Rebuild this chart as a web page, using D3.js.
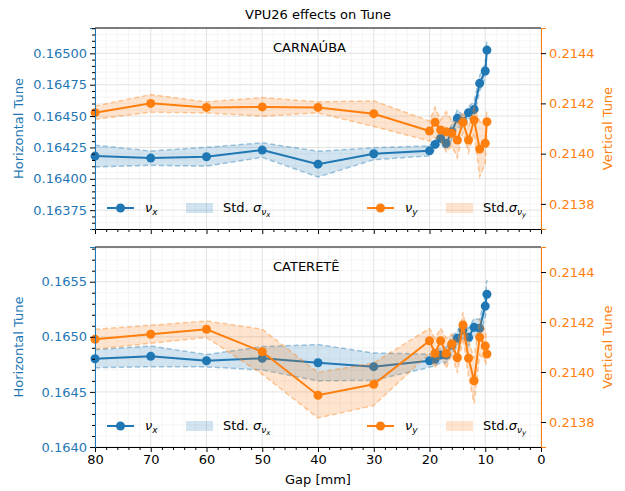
<!DOCTYPE html>
<html>
<head>
<meta charset="utf-8">
<script src="https://cdn.jsdelivr.net/npm/d3@7"></script>
<style>
  body { margin: 0; background: #fff; }
  svg { font-family: "DejaVu Sans", sans-serif; }
  .grid-major line { stroke: #dcdcdc; stroke-width: 0.8; }
  .grid-minor line { stroke: #efefef; stroke-width: 0.6; }
</style>
</head>
<body>
<svg id="chart"></svg>
<script>
// gap values [mm]
const gaps = [80, 70, 60, 50, 40, 30, 20, 19, 18, 17, 16, 15, 14, 13, 12, 11, 10, 9.7];

// CARNAUBA
const carnaubaNuX = [0.164181, 0.164165, 0.164176, 0.164229, 0.164117, 0.164200, 0.164223, 0.164274, 0.164322, 0.164282,
                     0.164375, 0.164482, 0.164455, 0.164527, 0.164553, 0.164761, 0.164859, 0.165026];
const carnaubaStdX = [0.000087, 0.000057, 0.000075, 0.000058, 0.000103, 0.000048, 0.00004, 0.00004, 0.00004, 0.00005,
                      0.00006, 0.00007, 0.00005, 0.00005, 0.00006, 0.00006, 0.00006, 0.00008];
const carnaubaNuY = [0.214163, 0.214200, 0.214184, 0.214186, 0.214184, 0.214159, 0.214090, 0.214125, 0.214094, 0.214087,
                     0.214081, 0.214054, 0.214125, 0.214054, 0.214134, 0.214018, 0.214041, 0.214127];
const carnaubaStdY = [0.0000265, 0.000035, 0.000022, 0.000037, 0.000022, 0.000051, 0.00004, 0.00006, 0.00004, 0.00008,
                      0.00005, 0.00007, 0.00004, 0.00005, 0.00005, 0.00011, 0.00008, 0.00004];

// CATERETE
const cateretNuX = [0.164801, 0.164823, 0.164783, 0.164805, 0.164765, 0.164729, 0.164783, 0.164796, 0.164835, 0.164835,
                    0.164926, 0.164986, 0.165062, 0.164995, 0.165086, 0.165077, 0.165279, 0.165386];
const cateretStdX = [0.000082, 0.000094, 0.000056, 0.000106, 0.000165, 0.000124, 0.00006, 0.00006, 0.00007, 0.00007,
                     0.00008, 0.00007, 0.00007, 0.00008, 0.00008, 0.00008, 0.0001, 0.00013];
const cateretNuY = [0.214131, 0.214151, 0.214171, 0.214081, 0.213907, 0.213951, 0.214125, 0.214075, 0.214125, 0.214075,
                    0.214112, 0.214057, 0.214188, 0.214055, 0.213965, 0.214139, 0.214104, 0.214072];
const cateretStdY = [0.00004, 0.000036, 0.000033, 0.00009, 0.000091, 0.000085, 0.00005, 0.00006, 0.00005, 0.00006,
                     0.00004, 0.00006, 0.00005, 0.00007, 0.00009, 0.00007, 0.00006, 0.00005];

// tick values
const xTicks = [80, 70, 60, 50, 40, 30, 20, 10, 0];
const carnaubaLeftTicks = [0.16375, 0.16400, 0.16425, 0.16450, 0.16475, 0.16500];
const cateretLeftTicks = [0.1640, 0.1645, 0.1650, 0.1655];
const rightTicks = [0.2138, 0.2140, 0.2142, 0.2144];

const blue = '#1f77b4', orange = '#ff7f0e';

const svg = d3.select('#chart').attr('width', 625).attr('height', 491);

svg.append('text')
    .attr('x', 318).attr('y', 19)
    .attr('text-anchor', 'middle')
    .attr('font-size', 13)
    .text('VPU26 effects on Tune');

class TunePanel {
    constructor(_config, _data) {
        this.config = {
            top: _config.top,
            height: _config.height,
            left: 95,
            width: 446,
            label: _config.label,
            leftDomain: _config.leftDomain,
            leftTicks: _config.leftTicks,
            leftMinor: _config.leftMinor,
            leftFormat: _config.leftFormat,
            showXLabels: _config.showXLabels
        };
        this.data = _data;
        this.initVis();
    }

    initVis() {
        let vis = this;
        let c = vis.config;

        vis.g = svg.append('g').attr('transform', `translate(${c.left},${c.top})`);

        vis.xScale = d3.scaleLinear().domain([80, 0]).range([0, c.width]);
        vis.yLeft = d3.scaleLinear().domain(c.leftDomain).range([c.height, 0]);
        vis.yRight = d3.scaleLinear().domain([0.2137, 0.2145]).range([c.height, 0]);

        vis.updateVis();
    }

    updateVis() {
        let vis = this;
        let c = vis.config;

        // minor ticks
        vis.xMinor = d3.range(0, 81, 2).filter(d => d % 10 !== 0);
        let [lo, hi] = c.leftDomain;
        vis.yMinor = d3.range(Math.ceil(lo / c.leftMinor), Math.floor(hi / c.leftMinor) + 1)
            .map(i => +(i * c.leftMinor).toFixed(7))
            .filter(v => !c.leftTicks.some(t => Math.abs(t - v) < 1e-9));

        vis.rows = vis.data.gaps.map((g, i) => ({
            gap: g,
            nx: vis.data.nuX[i], sx: vis.data.stdX[i],
            ny: vis.data.nuY[i], sy: vis.data.stdY[i]
        }));

        vis.renderVis();
    }

    renderVis() {
        let vis = this;
        let c = vis.config;
        let g = vis.g;

        // grid
        g.append('g').attr('class', 'grid-minor')
            .selectAll('line.v').data(vis.xMinor).join('line')
            .attr('x1', d => vis.xScale(d)).attr('x2', d => vis.xScale(d))
            .attr('y1', 0).attr('y2', c.height);
        g.append('g').attr('class', 'grid-minor')
            .selectAll('line.h').data(vis.yMinor).join('line')
            .attr('y1', d => vis.yLeft(d)).attr('y2', d => vis.yLeft(d))
            .attr('x1', 0).attr('x2', c.width);
        g.append('g').attr('class', 'grid-major')
            .selectAll('line').data(xTicks).join('line')
            .attr('x1', d => vis.xScale(d)).attr('x2', d => vis.xScale(d))
            .attr('y1', 0).attr('y2', c.height);
        g.append('g').attr('class', 'grid-major')
            .selectAll('line').data(c.leftTicks).join('line')
            .attr('y1', d => vis.yLeft(d)).attr('y2', d => vis.yLeft(d))
            .attr('x1', 0).attr('x2', c.width);

        // horizontal tune (left axis)
        vis.drawSeries(vis.yLeft, 'nx', 'sx', blue);
        // vertical tune (twin axis, drawn above)
        vis.drawSeries(vis.yRight, 'ny', 'sy', orange);

        // panel label
        g.append('text')
            .attr('x', 273 - c.left).attr('y', 24)
            .attr('font-size', 13)
            .text(c.label);

        vis.drawLegend();

        // axes
        let xAxis = d3.axisBottom(vis.xScale).tickValues(xTicks).tickSize(5).tickPadding(3)
            .tickFormat(c.showXLabels ? d3.format('d') : '');
        let xAxisMinor = d3.axisBottom(vis.xScale).tickValues(vis.xMinor).tickSize(3).tickFormat('');
        let xG = g.append('g').attr('transform', `translate(0,${c.height})`).call(xAxis);
        g.append('g').attr('transform', `translate(0,${c.height})`).call(xAxisMinor)
            .select('.domain').remove();
        xG.selectAll('text').attr('font-size', 13).attr('fill', '#000').attr('font-family', 'DejaVu Sans');

        let yAxis = d3.axisLeft(vis.yLeft).tickValues(c.leftTicks).tickSize(5).tickPadding(3)
            .tickFormat(d3.format(c.leftFormat));
        let yAxisMinor = d3.axisLeft(vis.yLeft).tickValues(vis.yMinor).tickSize(3).tickFormat('');
        let yG = g.append('g').call(yAxis);
        g.append('g').call(yAxisMinor).select('.domain').remove();
        yG.selectAll('text').attr('font-size', 13).attr('fill', blue).attr('font-family', 'DejaVu Sans');

        let rAxis = d3.axisRight(vis.yRight).tickValues(rightTicks).tickSize(5).tickPadding(3)
            .tickFormat(d3.format('.4f'));
        let rG = g.append('g').attr('transform', `translate(${c.width},0)`).call(rAxis);
        rG.selectAll('text').attr('font-size', 13).attr('fill', orange).attr('font-family', 'DejaVu Sans');

        // spines
        g.append('line').attr('x1', 0).attr('x2', c.width).attr('y1', 0).attr('y2', 0)
            .attr('stroke', '#000').attr('stroke-width', 1);
        xG.select('.domain').attr('stroke', '#000');
        yG.select('.domain').attr('stroke', blue);
        rG.select('.domain').attr('stroke', orange);

        // axis titles
        g.append('text')
            .attr('transform', `translate(${18 - c.left},${c.height / 2}) rotate(-90)`)
            .attr('text-anchor', 'middle').attr('dy', '0.35em')
            .attr('font-size', 13).attr('fill', blue)
            .text('Horizontal Tune');
        g.append('text')
            .attr('transform', `translate(${607 - c.left},${c.height / 2}) rotate(-90)`)
            .attr('text-anchor', 'middle').attr('dy', '0.35em')
            .attr('font-size', 13).attr('fill', orange)
            .text('Vertical Tune');

        if (c.showXLabels) {
            g.append('text')
                .attr('x', c.width / 2).attr('y', c.height + 37)
                .attr('text-anchor', 'middle').attr('font-size', 13)
                .text('Gap [mm]');
        }
    }

    drawSeries(y, key, skey, color) {
        let vis = this;
        let g = vis.g;

        let area = d3.area()
            .x(d => vis.xScale(d.gap))
            .y0(d => y(d[key] - d[skey]))
            .y1(d => y(d[key] + d[skey]));
        let upper = d3.line().x(d => vis.xScale(d.gap)).y(d => y(d[key] + d[skey]));
        let lower = d3.line().x(d => vis.xScale(d.gap)).y(d => y(d[key] - d[skey]));
        let line = d3.line().x(d => vis.xScale(d.gap)).y(d => y(d[key]));

        g.append('path').datum(vis.rows)
            .attr('d', area).attr('fill', color).attr('fill-opacity', 0.2);
        [upper, lower].forEach(gen => {
            g.append('path').datum(vis.rows)
                .attr('d', gen).attr('fill', 'none')
                .attr('stroke', color).attr('stroke-opacity', 0.4)
                .attr('stroke-width', 1.5).attr('stroke-dasharray', '5,3');
        });
        g.append('path').datum(vis.rows)
            .attr('d', line).attr('fill', 'none')
            .attr('stroke', color).attr('stroke-width', 2);
        g.selectAll(null).data(vis.rows).join('circle')
            .attr('cx', d => vis.xScale(d.gap)).attr('cy', d => y(d[key]))
            .attr('r', 4.5).attr('fill', color);
    }

    drawLegend() {
        let vis = this;
        let c = vis.config;
        let ly = c.height - 21;
        let g = vis.g.append('g').attr('transform', `translate(${-c.left},${ly})`);

        let items = [
            {x: 107, color: blue, sub: 'x', gapAfterStd: true},
            {x: 367, color: orange, sub: 'y', gapAfterStd: false}
        ];
        items.forEach(it => {
            g.append('line').attr('x1', it.x).attr('x2', it.x + 27).attr('y1', 0).attr('y2', 0)
                .attr('stroke', it.color).attr('stroke-width', 2);
            g.append('circle').attr('cx', it.x + 13.5).attr('cy', 0).attr('r', 4.5).attr('fill', it.color);
            let t = g.append('text').attr('x', it.x + 38).attr('y', 4).attr('font-size', 13);
            t.append('tspan').attr('font-style', 'italic').text('ν');
            t.append('tspan').attr('font-style', 'italic').attr('font-size', 9).attr('dy', 3).text(it.sub);

            g.append('rect').attr('x', it.x + 79).attr('y', -5).attr('width', 27).attr('height', 10)
                .attr('fill', it.color).attr('fill-opacity', 0.2);
            let s = g.append('text').attr('x', it.x + 116).attr('y', 4).attr('font-size', 13);
            s.append('tspan').text(it.gapAfterStd ? 'Std. ' : 'Std.');
            s.append('tspan').attr('font-style', 'italic').text('σ');
            s.append('tspan').attr('font-style', 'italic').attr('font-size', 9).attr('dy', 3).text('ν');
            s.append('tspan').attr('font-style', 'italic').attr('font-size', 7).attr('dy', 2).text(it.sub);
        });
    }
}

new TunePanel({
    top: 28, height: 201, label: 'CARNAÚBA',
    leftDomain: [0.1636, 0.165202], leftTicks: carnaubaLeftTicks,
    leftMinor: 0.00005, leftFormat: '.5f', showXLabels: false
}, {gaps: gaps, nuX: carnaubaNuX, stdX: carnaubaStdX, nuY: carnaubaNuY, stdY: carnaubaStdY});

new TunePanel({
    top: 247, height: 200, label: 'CATERETÊ',
    leftDomain: [0.1640, 0.165815], leftTicks: cateretLeftTicks,
    leftMinor: 0.0001, leftFormat: '.4f', showXLabels: true
}, {gaps: gaps, nuX: cateretNuX, stdX: cateretStdX, nuY: cateretNuY, stdY: cateretStdY});
</script>
</body>
</html>
